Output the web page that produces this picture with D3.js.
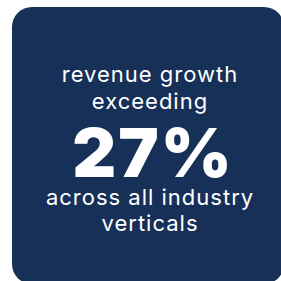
<!DOCTYPE html>
<html><head><meta charset="utf-8">
<script src="https://cdn.jsdelivr.net/npm/d3@7"></script>
<style>html,body{margin:0;padding:0;background:#fff;overflow:hidden}</style>
</head><body>
<script>
const headLines = ["revenue growth", "exceeding"];
const statValue = ["27%"];
const tailLines = ["across all industry", "verticals"];

const W = 281, H = 281;
const svg = d3.select("body").append("svg").attr("width", W).attr("height", H);
svg.append("rect").attr("x", 12).attr("y", 7).attr("width", 272).attr("height", 277)
  .attr("rx", 20).attr("fill", "#173058");

const cx = 150;
const font = "Inter, 'Open Sans', sans-serif";
svg.selectAll("text.head").data(headLines).join("text")
  .attr("class","head").attr("x", cx).attr("y", (d,i) => 82 + i*27)
  .attr("text-anchor","middle").attr("fill","#fff")
  .style("font-family", font).style("font-size","22px").style("letter-spacing","1px")
  .text(d => d);
svg.selectAll("text.stat").data(statValue).join("text")
  .attr("class","stat").attr("x", cx + 3).attr("y", 177)
  .attr("text-anchor","middle").attr("fill","#fff")
  .style("font-family", font).style("font-size","68px").style("font-weight","900").style("letter-spacing","2px")
  .text(d => d);
svg.selectAll("text.tail").data(tailLines).join("text")
  .attr("class","tail").attr("x", cx).attr("y", (d,i) => 205 + i*26)
  .attr("text-anchor","middle").attr("fill","#fff")
  .style("font-family", font).style("font-size","22px").style("letter-spacing","1px")
  .text(d => d);
</script>
</body></html>
